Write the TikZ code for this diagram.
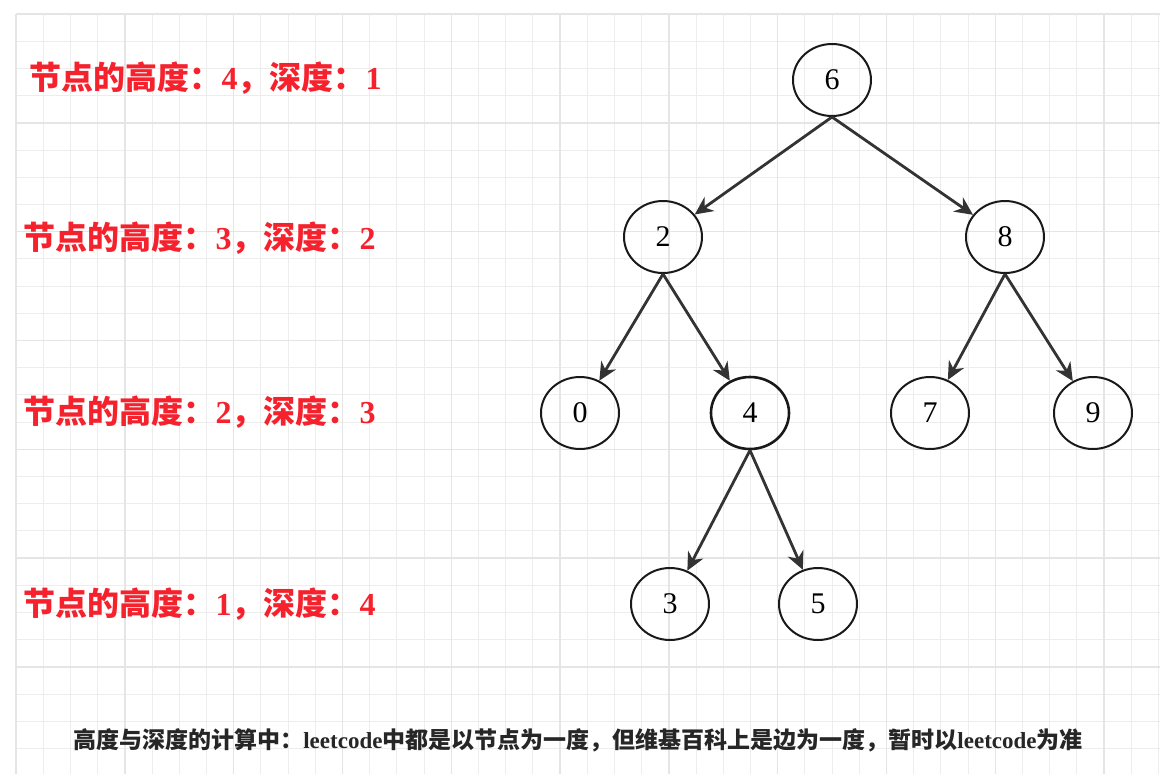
\documentclass[tikz,border=0pt]{standalone}
\usepackage{fontspec}
\setmainfont{Liberation Serif}
\newfontfamily\cjk{Noto Sans CJK SC}
\usetikzlibrary{shapes.geometric,arrows.meta}
\definecolor{lbl}{HTML}{F5222D}
\definecolor{edge}{HTML}{333333}
\begin{document}
\begin{tikzpicture}[x=1pt,y=-1pt,
  tn/.style={ellipse,draw=black!90,line width=2pt,minimum width=78pt,minimum height=72pt,inner sep=0pt,font=\fontsize{30}{30}\selectfont},
  ar/.style={draw=edge,line width=2.8pt,-{Stealth[length=18pt,width=17pt]}},
  hl/.style={text=lbl,anchor=west,font=\fontsize{32}{32}\selectfont\bfseries},
  minor/.style={draw=black!7,line width=1pt},
  major/.style={draw=black!10,line width=1.4pt}]
\useasboundingbox (0,0) rectangle (1176,774);
\fill[white] (0,0) rectangle (1176,774);
\foreach \i in {0,...,42} {\draw[minor] (16+27.2*\i,14) -- (16+27.2*\i,774);}
\foreach \j in {0,...,28} {\draw[minor] (16,14+27.2*\j) -- (1160,14+27.2*\j);}
\foreach \i in {0,...,10} {\draw[major] (16+108.8*\i,14) -- (16+108.8*\i,774);}
\foreach \j in {0,...,7} {\draw[major] (16,14+108.8*\j) -- (1160,14+108.8*\j);}
\node[tn] (n6) at (832,80) {6};
\node[tn] (n2) at (663,237) {2};
\node[tn] (n8) at (1005,237) {8};
\node[tn] (n0) at (580,413) {0};
\node[tn,line width=2.6pt] (n4) at (750,413) {4};
\node[tn] (n7) at (930,413) {7};
\node[tn] (n9) at (1093,413) {9};
\node[tn] (n3) at (670,604) {3};
\node[tn] (n5) at (818,604) {5};
\draw[ar] (n6.south) -- (n2);
\draw[ar] (n6.south) -- (n8);
\draw[ar] (n2.south) -- (n0);
\draw[ar] (n2.south) -- (n4);
\draw[ar] (n8.south) -- (n7);
\draw[ar] (n8.south) -- (n9);
\draw[ar] (n4.south) -- (n3);
\draw[ar] (n4.south) -- (n5);
\node[hl] (l1) at (26,78) {{\cjk 节点的高度：}4{\cjk ，深度：}1};
\node[hl] (l2) at (20,238) {{\cjk 节点的高度：}3{\cjk ，深度：}2};
\node[hl] (l3) at (20,412) {{\cjk 节点的高度：}2{\cjk ，深度：}3};
\node[hl] (l4) at (20,604) {{\cjk 节点的高度：}1{\cjk ，深度：}4};
\node[font=\fontsize{23}{23}\selectfont\bfseries,text=black!85] (note) at (578,740) {{\cjk 高度与深度的计算中：}leetcode{\cjk 中都是以节点为一度，但维基百科上是边为一度，暂时以}leetcode{\cjk 为准}};
\end{tikzpicture}
\end{document}
